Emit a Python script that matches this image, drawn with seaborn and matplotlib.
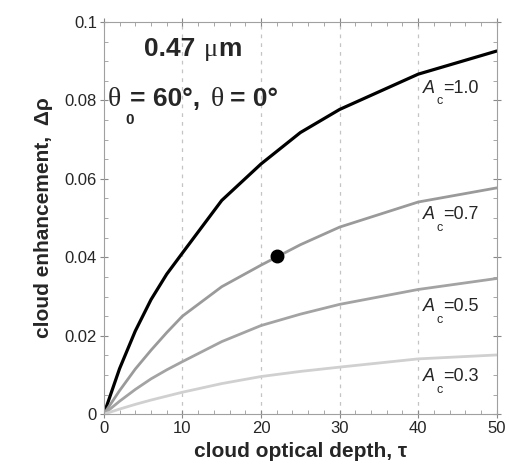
import numpy as np
import pandas as pd
import matplotlib
matplotlib.use('Agg')
import matplotlib.pyplot as plt
from matplotlib.ticker import MultipleLocator
import seaborn as sns

# optical depth samples
TAU = [0, 2, 4, 6, 8, 10, 15, 20, 25, 30, 40, 50]

# cloud enhancement for each cloud fraction
A_10 = [0, 0.0116, 0.0212, 0.0292, 0.0357, 0.0411, 0.0545, 0.0638, 0.0718, 0.0777, 0.0867, 0.0926]
A_07 = [0, 0.0060, 0.0115, 0.0163, 0.0208, 0.0250, 0.0325, 0.0380, 0.0432, 0.0477, 0.0541, 0.0577]
A_05 = [0, 0.0033, 0.0063, 0.0090, 0.0113, 0.0134, 0.0185, 0.0226, 0.0255, 0.0280, 0.0318, 0.0346]
A_03 = [0, 0.0013, 0.0025, 0.0036, 0.0046, 0.0056, 0.0078, 0.0096, 0.0109, 0.0120, 0.0141, 0.0151]

FRACTIONS = ['1.0', '0.7', '0.5', '0.3']
COLORS = ['#000000', '#9a9a9a', '#a3a3a3', '#d0d0d0']
WIDTHS = [2.3, 2.0, 2.0, 2.0]
LABEL_Y = [0.0831, 0.0508, 0.0274, 0.0095]

# marked point on the A_c = 0.7 curve
DOT_TAU = 22
DOT_VAL = 0.0403

rows = []
for frac, vals in zip(FRACTIONS, [A_10, A_07, A_05, A_03]):
    for t, v in zip(TAU, vals):
        rows.append({'tau': t, 'drho': v, 'Ac': frac})
df = pd.DataFrame(rows)

sns.set_style("ticks")
plt.rcParams['font.family'] = ['Liberation Sans', 'DejaVu Sans']
SERIF = 'Liberation Serif'

fig = plt.figure(figsize=(5.09, 4.68), dpi=100)
ax = fig.add_axes([0.204, 0.115, 0.772, 0.838])

for x in [10, 20, 30, 40]:
    ax.axvline(x, color='#c4c4c4', lw=0.9, ls=(0, (3, 4)), zorder=0)

for frac, col, lw in zip(FRACTIONS, COLORS, WIDTHS):
    sns.lineplot(data=df[df['Ac'] == frac], x='tau', y='drho', color=col,
                 linewidth=lw, legend=False, ax=ax)
ax.plot([DOT_TAU], [DOT_VAL], 'o', color='black', markersize=9, zorder=5)

# A_c labels: italic A, dropped subscript c, then the value
for frac, y in zip(FRACTIONS, LABEL_Y):
    ax.text(40.6, y, 'A', fontsize=13, style='italic', va='center', ha='left')
    ax.annotate('c', (40.6, y), xytext=(10, -9.5), textcoords='offset points',
                fontsize=9, va='center', ha='left')
    ax.annotate('=' + frac, (40.6, y), xytext=(14.5, 0), textcoords='offset points',
                fontsize=13, va='center', ha='left')

# wavelength and geometry annotation
ax.text(5.1, 0.0931, '0.47', fontsize=19, fontweight='bold', va='center')
ax.text(12.7, 0.0928, 'μ', fontsize=19, family=SERIF, va='center')
ax.text(14.5, 0.0931, 'm', fontsize=19, fontweight='bold', va='center')

ax.text(0.5, 0.0803, 'θ', fontsize=20, family=SERIF, va='center')
ax.text(2.8, 0.0750, '0', fontsize=11, fontweight='bold', va='center')
ax.text(3.3, 0.0803, '= 60°,', fontsize=19, fontweight='bold', va='center')
ax.text(13.6, 0.0803, 'θ', fontsize=20, family=SERIF, va='center')
ax.text(16.0, 0.0803, '= 0°', fontsize=19, fontweight='bold', va='center')

ax.set_xlim(0, 50)
ax.set_ylim(0, 0.1)
ax.set_xticks([0, 10, 20, 30, 40, 50])
ax.set_yticks([0, 0.02, 0.04, 0.06, 0.08, 0.1])
ax.set_yticklabels(['0', '0.02', '0.04', '0.06', '0.08', '0.1'])
ax.xaxis.set_minor_locator(MultipleLocator(2))
ax.yaxis.set_minor_locator(MultipleLocator(0.005))
ax.tick_params(which='major', direction='inout', length=6, width=0.8,
               color='#888888', labelsize=12, top=True, right=True,
               labeltop=False, labelright=False, pad=2)
ax.tick_params(which='minor', direction='in', length=3, width=0.6,
               color='#999999', top=True, right=True)
for s in ax.spines.values():
    s.set_color('#a0a0a0')
    s.set_linewidth(0.8)

ax.set_xlabel('cloud optical depth, τ', fontsize=15, fontweight='bold', labelpad=4)
ax.set_ylabel('cloud enhancement,  Δρ', fontsize=15, fontweight='bold', labelpad=8)

fig.savefig('out.png', dpi=100)
